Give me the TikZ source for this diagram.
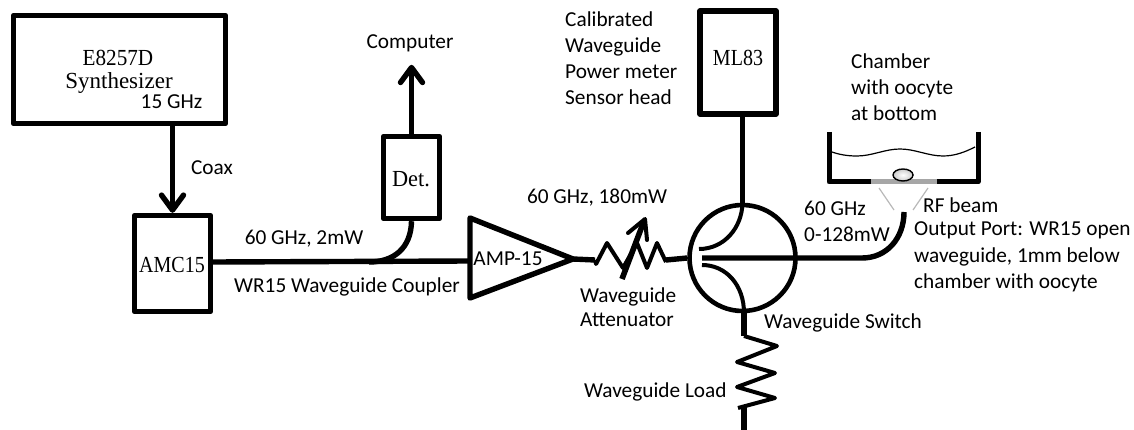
\documentclass[tikz,border=0pt]{standalone}
\usepackage{fontspec}
\setmainfont{Carlito}
\newfontfamily\serifx{Liberation Serif}
\usetikzlibrary{arrows.meta,shapes.geometric}
\tikzset{
  wg/.style={line width=5.4pt,line join=round},
  thin wg/.style={line width=4pt,line join=round},
  boxx/.style={draw,line width=5.4pt,line join=round,inner sep=0pt},
  boxtxt/.style={inner sep=0pt,transform shape,xscale=#1,font=\fontsize{23}{25}\selectfont\serifx},
  lbl/.style={inner sep=0pt,font=\fontsize{21.3}{25}\selectfont,align=left},
  arr/.style={wg,-{Straight Barb[length=15pt,width=22pt,line width=5.4pt,round]}},
  beam/.style={line width=1.2pt,draw=black!28},
}
\begin{document}
\begin{tikzpicture}[x=1pt,y=-1pt]
\useasboundingbox (0,0) rectangle (1134,430);
% boxes
\node[boxx,minimum width=212pt,minimum height=108pt] (syn) at (119.5,69.5) {};
\node[boxtxt=0.92] (syn1) at (118,58) {E8257D};
\node[boxtxt=1] (syn2) at (119,83) {Synthesizer};
\node[lbl] (ghz15) at (171.5,102) {15 GHz};
\node[boxx,minimum width=76pt,minimum height=96pt] (amc) at (172.5,263.5) {};
\node[boxtxt=0.87] (amct) at (172,265) {AMC15};
\node[boxx,minimum width=56pt,minimum height=82pt] (det) at (411.5,177.5) {};
\node[boxtxt=0.97] (dett) at (411,179) {Det.};
\node[boxx,minimum width=76pt,minimum height=103pt] (ml) at (738,62.5) {};
\node[boxtxt=0.87] (mlt) at (738,58) {ML83};
% labels
\node[lbl] at (212,168) {Coax};
\node[lbl] at (410,43) {Computer};
\node[lbl] at (304,239) {60 GHz, 2mW};
\node[lbl] at (347,287) {WR15 Waveguide Coupler};
\node[lbl] at (597,198) {60 GHz, 180mW};
\node[lbl,anchor=west,font=\fontsize{21.3}{24.5}\selectfont] at (580,307) {Waveguide\\Attenuator};
\node[lbl,anchor=west] at (584,392) {Waveguide Load};
\node[lbl,anchor=west] at (764,323) {Waveguide Switch};
\node[lbl,anchor=west,font=\fontsize{21.3}{26}\selectfont] at (565,58) {Calibrated\\Waveguide\\Power meter\\Sensor head};
\node[lbl,anchor=west,font=\fontsize{21.3}{26}\selectfont] at (851,87) {Chamber\\with oocyte\\at bottom};
\node[lbl,anchor=west,font=\fontsize{21.3}{26.5}\selectfont] at (804,221.5) {60 GHz\\0-128mW};
\node[lbl,anchor=west] at (923,205) {RF beam};
\node[lbl,anchor=west,font=\fontsize{21.3}{26.5}\selectfont] at (914,257) {Output Port: WR15 open\\waveguide, 1mm below\\chamber with oocyte};
% connectors
\draw[arr] (syn.south -| amc.north) -- (amc.north);
\draw[arr] (det.north) -- ++(0,-69);
\coordinate (cpl) at (369,262);
\coordinate (ampw) at (470,261);
\draw[wg] (amc.east |- cpl) -- (ampw);
\draw[wg] (det.south) .. controls (411,248) and (394,262) .. (cpl);
% amplifier
\coordinate (a1) at (470,218); \coordinate (a2) at (470,298); \coordinate (atip) at (573,259);
\draw[wg,fill=white] (a1) -- (atip) -- (a2) -- cycle;
\node[inner sep=0pt,font=\fontsize{21.3}{25}\selectfont] (amp) at (508,259) {AMP-15};
% attenuator
\coordinate (att1) at (595,260);
\coordinate (att2) at (666,260);
\node[draw,circle,line width=4.6pt,minimum size=106pt,inner sep=0pt] (sw) at (742.5,258) {};
\draw[wg] (atip) -- (att1);
\draw[thin wg] (att1) -- (596,264) -- (607,243) -- (623,268) -- (637,243) -- (647,268) -- (657,243) -- (666,262);
\draw[wg] (att2) -- (sw.west);
\draw[line width=5.6pt] (622,279) -- (644,221);
\draw[thin wg,line cap=round] (628,233) -- (645,219) -- (647,240);
% switch
\draw[line width=4.4pt] (ml.south -| sw.north) -- (sw.north);
\draw[thin wg] (699,249) .. controls (724,249) and (742,228) .. (sw.north);
\draw[wg] (702,258) -- (862,258) .. controls (887,258) and (904,238) .. (904,212);
\draw[thin wg] (702,265) .. controls (726,265) and (744,285) .. (744,313);
\draw[wg] (744,311) -- (744,336);
\draw[thin wg] (744,336) -- (777,346) -- (737,362) -- (775,373) -- (737,387) -- (775,398) -- (738,408);
\draw[wg] (744,406) -- (744,430);
% chamber
\draw[black,line width=5pt,line join=round] (829,132) -- (829,182) -- (871,182);
\draw[black,line width=5pt,line join=round] (978,132) -- (978,182) -- (937,182);
\draw[draw=black!35,line width=5pt] (871,182) -- (937,182);
\draw[line width=1.2pt] (829,151) .. controls (840,155) and (848,156) .. (857,156) .. controls (872,156) and (885,149) .. (900,149) .. controls (915,149) and (928,156) .. (943,156) .. controls (955,156) and (965,152) .. (975,147);
\node[draw,ellipse,line width=1.4pt,inner sep=0pt,minimum width=20pt,minimum height=12pt,inner color=white,outer color=black!20] (ooc) at (903,175) {};
\draw[beam] (879,188) -- (894,210);
\draw[beam] (928,188) -- (913,210);
\end{tikzpicture}
\end{document}
